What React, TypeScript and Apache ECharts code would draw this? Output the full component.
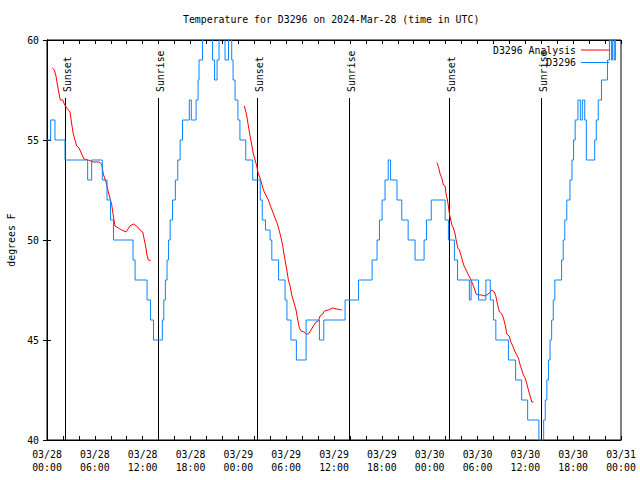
import React, { useEffect, useRef } from "react";
import * as echarts from "echarts";

// Hours since 2024-03-28 00:00 UTC
const xTickLabels = [
  "03/28\n00:00", "03/28\n06:00", "03/28\n12:00", "03/28\n18:00",
  "03/29\n00:00", "03/29\n06:00", "03/29\n12:00", "03/29\n18:00",
  "03/30\n00:00", "03/30\n06:00", "03/30\n12:00", "03/30\n18:00",
  "03/31\n00:00",
];

const sunsetHours = [2.26, 26.35, 50.44];
const sunriseHours = [13.93, 37.89, 61.98];

// Station observations [hour, degF] (step: value holds from its hour)
const stationObs: number[][] = [
  [0, 55], [0.46, 56], [1.0, 55], [2.26, 54], [5.1, 53], [5.6, 54], [6.94, 53], [7.53, 52],
  [7.97, 51], [8.34, 50], [10.79, 49], [11.05, 48], [12.55, 47], [12.99, 46], [13.36, 45],
  [14.47, 46], [14.65, 47], [14.85, 48], [15.06, 49], [15.25, 50], [15.45, 51], [15.75, 52],
  [16.1, 53], [16.4, 54], [16.7, 55], [17.0, 56], [17.85, 57], [18.1, 56], [18.7, 57],
  [18.95, 58], [19.07, 59], [19.5, 60], [19.64, 61], [20.77, 59], [21.02, 58], [21.33, 59],
  [21.58, 61], [22.33, 59], [22.77, 61], [23.17, 59], [23.34, 58], [23.59, 57], [23.95, 56],
  [24.2, 55], [24.93, 54], [25.8, 53], [26.75, 52], [27.0, 51], [27.4, 50.5], [27.98, 50],
  [28.2, 49], [29.05, 48], [29.86, 47], [30.1, 46], [30.6, 45], [31.28, 44], [32.5, 46],
  [34.17, 45], [34.72, 46], [37.39, 47], [39.08, 48], [40.78, 49], [41.4, 50], [41.7, 51],
  [42.03, 52], [42.4, 53], [42.8, 54], [43.1, 53], [43.9, 52], [44.5, 51], [45.3, 50],
  [46.17, 49], [47.3, 50], [47.6, 51], [48.2, 52], [49.94, 51], [50.35, 50], [51.1, 49],
  [51.5, 48], [52.98, 47], [53.2, 48], [54.12, 47], [55.05, 48], [55.6, 47], [56.0, 46],
  [56.3, 45], [57.88, 44], [58.78, 43], [59.54, 42], [60.29, 41], [61.7, 40], [62.3, 41],
  [62.5, 42], [62.7, 43], [62.9, 44], [63.1, 45], [63.3, 46], [63.5, 47], [63.7, 48],
  [64.55, 49], [64.75, 50], [64.95, 51], [65.2, 52], [65.6, 53], [65.85, 54], [66.05, 55],
  [66.25, 56], [66.6, 57], [66.9, 56], [67.15, 57], [67.45, 56], [67.65, 54], [68.7, 55],
  [68.9, 56], [69.15, 57], [69.55, 58], [70.3, 59], [70.55, 60], [70.8, 59], [70.95, 61],
  [71.15, 59], [71.3, 61], [71.5, 61],
];

// Analysis segments [hour, degF]
const analysisDay1: number[][] = [
  [0.66, 58.6], [0.92, 58.5], [1.13, 58.2], [1.29, 57.8], [1.47, 57.4], [1.67, 57.0],
  [1.97, 57.0], [2.17, 56.8], [2.47, 56.6], [2.89, 56.4], [3.1, 55.8], [3.3, 55.3],
  [3.51, 55.0], [3.73, 54.7], [4.02, 54.6], [4.35, 54.3], [4.64, 54.05], [5.18, 54.0],
  [5.81, 53.9], [6.52, 53.9], [6.86, 53.8], [7.06, 53.3], [7.4, 52.9], [7.69, 52.4],
  [7.9, 52.1], [8.12, 51.75], [8.32, 51.2], [8.53, 50.7], [8.95, 50.6], [9.37, 50.5],
  [9.91, 50.4], [10.41, 50.7], [10.83, 50.8], [11.25, 50.7], [11.67, 50.5], [12.01, 50.4],
  [12.21, 50.0], [12.42, 49.6], [12.51, 49.3], [12.71, 49.0], [13.01, 48.97],
];
const analysisDay2: number[][] = [
  [24.76, 56.7], [25.06, 56.2], [25.26, 55.7], [25.47, 55.2], [25.68, 54.75], [25.88, 54.3],
  [26.1, 54.0], [26.31, 53.7], [26.51, 53.3], [26.73, 53.1], [26.94, 52.8], [27.14, 52.5],
  [27.44, 52.25], [27.77, 52.0], [27.98, 51.75], [28.32, 51.4], [28.61, 51.1], [28.9, 50.8],
  [29.11, 50.5], [29.36, 50.1], [29.57, 49.7], [29.65, 49.5], [29.86, 49.0], [30.08, 48.5],
  [30.28, 48.0], [30.49, 47.7], [30.7, 47.25], [31.03, 46.8], [31.24, 46.5], [31.46, 46.0],
  [31.66, 45.6], [31.87, 45.45], [32.28, 45.4], [32.5, 45.3], [32.79, 45.3], [33.12, 45.5],
  [33.41, 45.7], [33.75, 45.9], [34.04, 45.95], [34.25, 46.2], [34.59, 46.3], [34.79, 46.45],
  [35.29, 46.5], [35.85, 46.6], [36.35, 46.55], [36.98, 46.5],
];
const analysisDay3: number[][] = [
  [48.9, 53.87], [49.1, 53.67], [49.31, 53.3], [49.52, 53.1], [49.72, 52.75], [49.94, 52.7],
  [50.06, 52.3], [50.23, 52.0], [50.35, 51.7], [50.48, 51.3], [50.65, 51.0], [50.78, 50.75],
  [50.98, 50.6], [51.19, 50.3], [51.32, 50.0], [51.53, 49.6], [51.73, 49.5], [51.91, 49.25],
  [52.16, 48.9], [52.32, 48.7], [52.57, 48.5], [52.86, 48.25], [53.07, 48.1], [53.29, 47.9],
  [53.58, 47.6], [53.83, 47.3], [54.12, 47.25], [54.54, 47.25], [54.96, 47.2], [55.37, 47.3],
  [55.8, 47.5], [56.09, 47.4], [56.3, 47.2], [56.5, 46.8], [56.75, 46.4], [57.05, 46.3],
  [57.25, 46.1], [57.47, 45.75], [57.68, 45.3], [57.97, 45.2], [58.18, 44.9], [58.43, 44.7],
  [58.72, 44.4], [58.93, 44.25], [59.13, 44.1], [59.35, 43.75], [59.56, 43.5], [59.76, 43.25],
  [59.97, 43.1], [60.19, 42.8], [60.39, 42.5], [60.6, 42.2], [60.81, 41.9], [61.02, 41.9],
];

const FONT = "'DejaVu Sans Mono', 'Liberation Mono', monospace";
const FS = 9.85;

export default function App() {
  const ref = useRef<HTMLDivElement>(null);
  useEffect(() => {
    if (!ref.current) return;
    const chart = echarts.init(ref.current, undefined, { renderer: "svg" });

    const sunEvents = [
      ...sunsetHours.map((h) => ({ h, label: "Sunset" })),
      ...sunriseHours.map((h) => ({ h, label: "Sunrise" })),
    ];
    const analysisData: any[] = [
      ...analysisDay1, [null, null], ...analysisDay2, [null, null], ...analysisDay3,
    ].map((p) => (p[0] === null ? "-" : p));

    const tickCommon = { show: true, inside: true, length: 4, lineStyle: { color: "#000" } };
    const lineCommon = { show: true, lineStyle: { color: "#000", width: 1 } };

    chart.setOption({
      animation: false,
      backgroundColor: "#fff",
      title: {
        text: "Temperature for D3296 on 2024-Mar-28 (time in UTC)",
        left: 183,
        top: 14,
        padding: 0,
        textStyle: { fontFamily: FONT, fontSize: FS, fontWeight: "normal", color: "#000" },
      },
      legend: {
        data: ["D3296 Analysis", "D3296"],
        orient: "vertical",
        right: 31,
        top: 44,
        align: "right",
        icon: "rect",
        itemWidth: 28,
        itemHeight: 1,
        itemGap: 0.5,
        padding: 0,
        textStyle: { fontFamily: FONT, fontSize: FS, color: "#000", lineHeight: 12 },
      },
      grid: {
        left: 47,
        right: 19,
        top: 40,
        bottom: 40,
        outerBoundsMode: "none",
        containLabel: false,
        show: true,
        borderColor: "#000",
        borderWidth: 1,
        backgroundColor: "transparent",
      },
      xAxis: [
        {
          type: "value",
          min: 0,
          max: 72,
          interval: 2,
          axisLine: lineCommon,
          axisTick: tickCommon,
          splitLine: { show: false },
          axisLabel: {
            fontFamily: FONT,
            fontSize: FS,
            color: "#000",
            lineHeight: 13,
            margin: 8,
            hideOverlap: false,
            formatter: (v: number) => {
              const i = Math.round(v / 6);
              return Math.abs(v - i * 6) < 1e-6 ? xTickLabels[i] : "";
            },
          },
        },
        {
          type: "value",
          position: "top",
          min: 0,
          max: 72,
          interval: 2,
          axisLine: lineCommon,
          axisTick: tickCommon,
          splitLine: { show: false },
          axisLabel: { show: false },
        },
      ],
      yAxis: [
        {
          type: "value",
          min: 40,
          max: 60,
          interval: 5,
          name: "degrees F",
          nameLocation: "middle",
          nameRotate: 90,
          nameGap: 30,
          nameTextStyle: { fontFamily: FONT, fontSize: FS, color: "#000" },
          axisLine: lineCommon,
          axisTick: tickCommon,
          splitLine: { show: false },
          axisLabel: { fontFamily: FONT, fontSize: FS, color: "#000", margin: 8 },
        },
        {
          type: "value",
          position: "right",
          min: 40,
          max: 60,
          interval: 5,
          axisLine: lineCommon,
          axisTick: tickCommon,
          splitLine: { show: false },
          axisLabel: { show: false },
        },
      ],
      series: [
        {
          type: "custom",
          name: "sun",
          xAxisIndex: 0,
          yAxisIndex: 0,
          silent: true,
          data: sunEvents.map((e) => [e.h, 40]),
          encode: { x: 0, y: 1 },
          renderItem: (params: any, api: any) => {
            const h = api.value(0);
            const bottom = api.coord([h, 40]);
            const top = api.coord([h, 57.1]);
            const x = Math.round(bottom[0]) + 0.5;
            return {
              type: "group",
              children: [
                {
                  type: "line",
                  shape: { x1: x, y1: bottom[1], x2: x, y2: top[1] },
                  style: { stroke: "#000", lineWidth: 1 },
                },
                {
                  type: "text",
                  x: x + 2,
                  y: top[1] - 6,
                  rotation: Math.PI / 2,
                  style: {
                    text: sunEvents[params.dataIndex].label,
                    fill: "#000",
                    font: `${FS}px ${FONT}`,
                    textAlign: "left",
                    textVerticalAlign: "middle",
                  },
                },
              ],
            };
          },
        },
        {
          type: "line",
          name: "D3296 Analysis",
          data: analysisData,
          connectNulls: false,
          symbol: "none",
          showSymbol: false,
          lineStyle: { color: "#ff0000", width: 1 },
          itemStyle: { color: "#ff0000" },
          clip: true,
        },
        {
          type: "line",
          name: "D3296",
          data: stationObs,
          step: "end",
          symbol: "none",
          showSymbol: false,
          lineStyle: { color: "#0a84ff", width: 1 },
          itemStyle: { color: "#0a84ff" },
          clip: true,
        },
      ],
    });
    return () => chart.dispose();
  }, []);
  return (
    <div
      ref={ref}
      style={{ position: "absolute", left: 0, top: 0, width: 640, height: 480 }}
    />
  );
}
